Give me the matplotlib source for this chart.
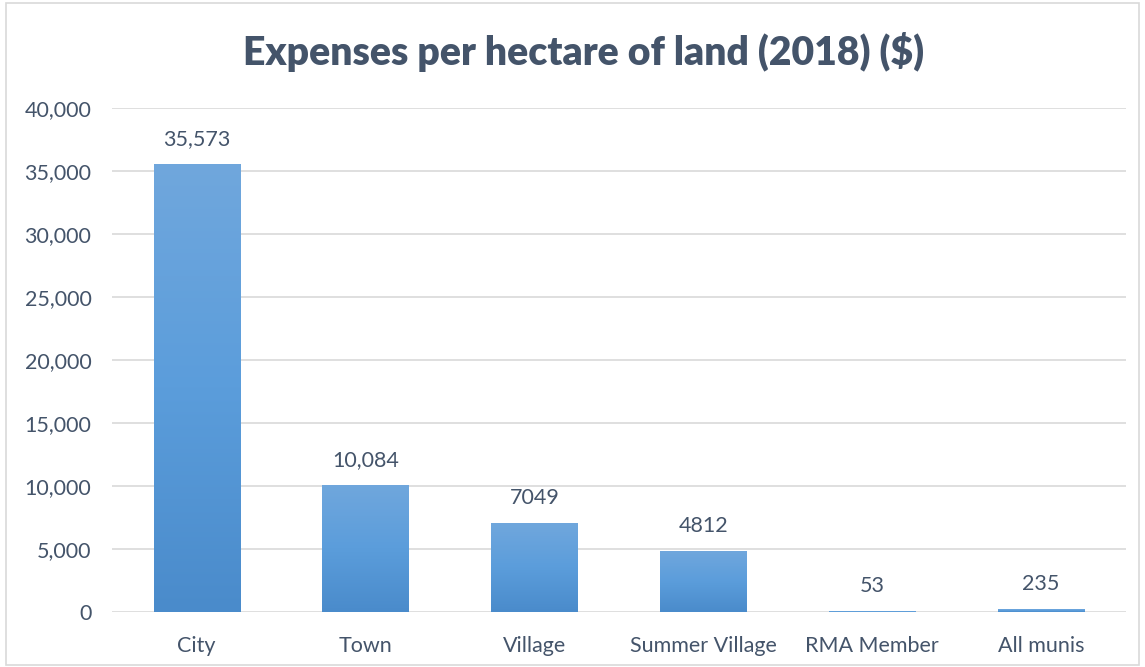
import numpy as np
import matplotlib.pyplot as plt
from matplotlib.colors import LinearSegmentedColormap
from matplotlib.patches import Rectangle
from matplotlib.ticker import FuncFormatter

categories = ["City", "Town", "Village", "Summer Village", "RMA Member", "All munis"]
values = [35573, 10084, 7049, 4812, 53, 235]
labels = ["35,573", "10,084", "7049", "4812", "53", "235"]

plt.rcParams["font.family"] = ["Lato", "DejaVu Sans"]
text_color = "#44546a"

fig = plt.figure(figsize=(11.45, 6.67), dpi=100)
ax = fig.add_axes([0.098, 0.0825, 0.885, 0.7555])

bars = ax.bar(range(len(categories)), values, width=0.51, color="#5b9bd5", zorder=2)

# gradient inside each bar, lighter at the top
cmap = LinearSegmentedColormap.from_list("g", ["#4a8bcb", "#5b9ddb", "#70a7dd"])
grad = np.linspace(0, 1, 256).reshape(-1, 1)
for b in bars:
    x0, y0 = b.get_x(), b.get_y()
    w, h = b.get_width(), b.get_height()
    im = ax.imshow(grad, cmap=cmap, aspect="auto", origin="lower",
                   extent=[x0, x0 + w, y0, y0 + h], zorder=3)
    clip = Rectangle((x0, y0), w, h, transform=ax.transData)
    im.set_clip_path(clip)

for i, (v, lab) in enumerate(zip(values, labels)):
    ax.text(i, v + 1200, lab, ha="center", va="bottom", fontsize=15.5, color=text_color)

ax.set_xlim(-0.5, len(categories) - 0.5)
ax.set_ylim(0, 40000)
ax.set_yticks(range(0, 40001, 5000))
ax.yaxis.set_major_formatter(FuncFormatter(lambda v, p: f"{int(v):,}"))
ax.set_xticks(range(len(categories)))
ax.set_xticklabels(categories)
ax.tick_params(axis="both", length=0, labelsize=15.5, colors=text_color)
ax.tick_params(axis="y", pad=15)
ax.tick_params(axis="x", pad=17)
ax.grid(axis="y", color="#d9d9d9", linewidth=1.2, zorder=0)
for s in ax.spines.values():
    s.set_visible(False)

fig.text(0.51, 0.922, "Expenses per hectare of land (2018) ($)", ha="center", va="center",
         fontsize=28.2, fontweight="heavy", color=text_color)

fig.patches.append(Rectangle((0.005, 0.003), 0.99, 0.993, transform=fig.transFigure,
                             fill=False, edgecolor="#d9d9d9", linewidth=1.2))

fig.savefig("out.png", dpi=100)
